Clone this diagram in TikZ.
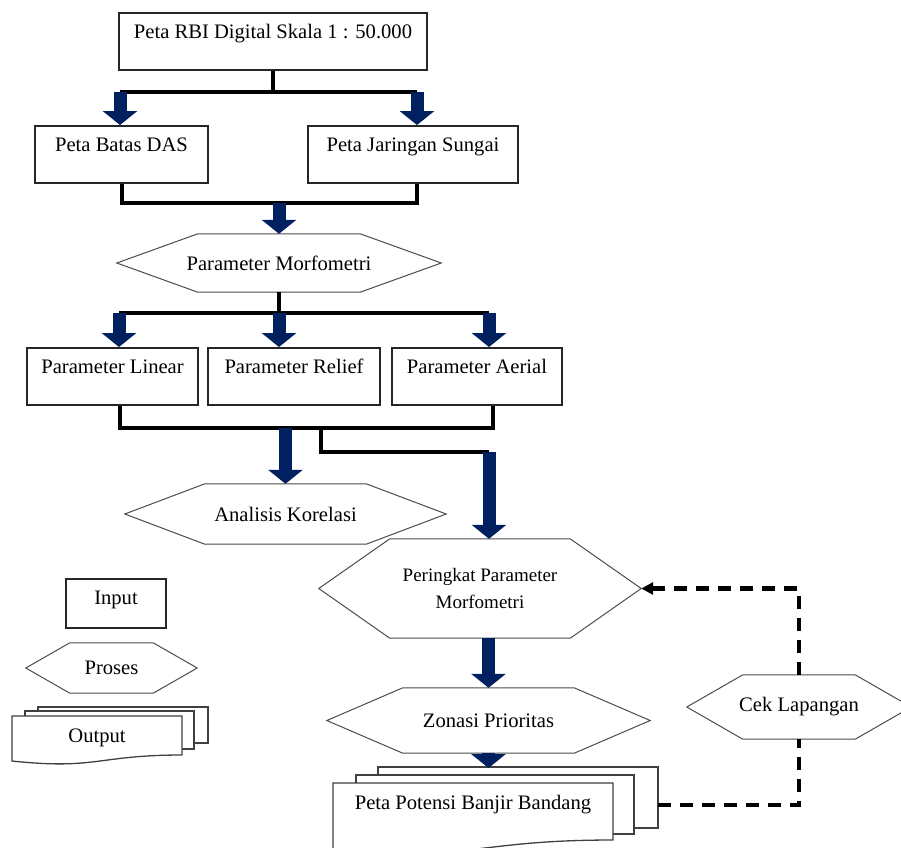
\documentclass[tikz,border=0pt]{standalone}
\usepackage{fontspec}
\setmainfont{Liberation Serif}
\usetikzlibrary{arrows.meta}
\definecolor{arrowblue}{HTML}{002060}
\newcommand\hexoutline[2]{\draw[hexline] (#1.west) -- ([xshift=#2]#1.north west) -- ([xshift=-#2]#1.north east) -- (#1.east) -- ([xshift=-#2]#1.south east) -- ([xshift=#2]#1.south west) -- cycle;}
\begin{document}
\begin{tikzpicture}[x=1pt,y=-1pt,
  txt/.style={font=\fontsize{20.6}{24}\selectfont},
  box/.style={txt, draw=black!85, line width=1.5pt, fill=white, anchor=north, inner xsep=0pt, inner ysep=0pt, text height=26pt},
  hexnode/.style={txt, inner sep=0pt, align=center},
  hexline/.style={draw=black!70, line width=1pt},
  doctext/.style={txt, anchor=north, inner sep=0pt, text height=26pt, text depth=10pt},
  sheet/.style={draw=black!75, line width=1.3pt, fill=white},
  conn/.style={line width=4pt, black},
  bigarrow/.style={line width=13pt, arrowblue, -{Triangle[width=34pt,length=14pt]}},
  dashconn/.style={line width=4.5pt, black, dash pattern=on 13pt off 9pt}
]
\fill[white] (0,0) rectangle (901,847);
\useasboundingbox (0,0) rectangle (901,847);
\clip (0,0) rectangle (901,847);

% ---------- main column boxes ----------
\node[box, minimum width=308pt, text depth=31pt] (top) at (273,12) {Peta RBI Digital Skala 1 : 50.000};
\node[box, minimum width=173pt, text depth=31pt] (batas) at (121.5,125) {Peta Batas DAS};
\node[box, minimum width=210pt, text depth=31pt] (jaring) at (413,125) {Peta Jaringan Sungai};

\node[hexnode, minimum width=324pt, minimum height=58pt] (morf) at (279,263) {Parameter Morfometri};
\hexoutline{morf}{81pt}

\node[box, minimum width=171pt, text depth=31pt] (lin) at (112.5,347) {Parameter Linear};
\node[box, minimum width=172pt, text depth=31pt] (rel) at (294,347) {Parameter Relief};
\node[box, minimum width=170pt, text depth=31pt] (aer) at (477,347) {Parameter Aerial};

\node[hexnode, minimum width=321pt, minimum height=60pt] (anal) at (285.5,514) {Analisis Korelasi};
\hexoutline{anal}{80pt}

\node[hexnode, font=\fontsize{19}{27}\selectfont, minimum width=322pt, minimum height=99pt] (pering) at (480,588.5) {Peringkat Parameter\\Morfometri};
\hexoutline{pering}{71pt}

\node[hexnode, minimum width=323pt, minimum height=65pt] (zon) at (488.5,720.5) {Zonasi Prioritas};
\hexoutline{zon}{76pt}

\node[hexnode, minimum width=224pt, minimum height=64pt] (cek) at (799,707) {Cek Lapangan};
\hexoutline{cek}{56pt}

% output stack (main)
\draw[sheet] (378,767) rectangle (658,828);
\draw[sheet] (356,775) rectangle (634,834);
\draw[sheet] (333,783) -- (613,783) -- (613,840) .. controls (473,840) and (473,862) .. (333,849) -- cycle;
\node[doctext, minimum width=280pt] (outp) at (473,783) {Peta Potensi Banjir Bandang};
\coordinate (outtop) at (488.5,768);
\coordinate (outr) at (658,805);

% ---------- legend ----------
\node[box, minimum width=100pt, text depth=23pt] (inp) at (116,578) {Input};
\node[hexnode, minimum width=171pt, minimum height=50pt] (pros) at (111.5,668) {Proses};
\hexoutline{pros}{44pt}
\draw[sheet] (38,707) rectangle (208,743);
\draw[sheet] (25,711) rectangle (194,749);
\draw[sheet] (12,716) -- (182,716) -- (182,755) .. controls (97,755) and (97,770) .. (12,761) -- cycle;
\node[doctext, minimum width=170pt] (outl) at (97,716) {Output};

% ---------- junction coordinates ----------
\coordinate (j1) at (273,92);
\coordinate (a1) at (120,92);
\coordinate (a2) at (417,92);
\coordinate (bm) at (279,203);
\coordinate (mj) at (279,313);
\coordinate (c1) at (119,313);
\coordinate (c3) at (489,313);
\coordinate (d1) at (120,428);
\coordinate (d2) at (493,428);
\coordinate (d3) at (285.5,428);
\coordinate (e1) at (321,428);
\coordinate (e2) at (489,452);

% ---------- connectors ----------
\draw[conn] (top.south) -- (j1);
\draw[conn] (a1) -- (a2);
\draw[conn] (batas.south) |- (bm) -| (jaring.south -| a2);
\draw[conn] (morf.south) -- (mj);
\draw[conn] (c1) -- (c3);
\draw[conn] (d1 |- lin.south) -- (d1) -- (d2) -- (d2 |- aer.south);
\draw[conn] (e1) |- (e2);

\draw[bigarrow] (a1) -- (a1 |- batas.north);
\draw[bigarrow] (a2) -- (a2 |- jaring.north);
\draw[bigarrow] (bm) -- (morf.north);
\draw[bigarrow] (c1) -- (c1 |- lin.north);
\draw[bigarrow] (mj) -- (mj |- rel.north);
\draw[bigarrow] (c3) -- (c3 |- aer.north);
\draw[bigarrow] (d3) -- (anal.north);
\draw[bigarrow] (e2) -- (e2 |- pering.north);
\draw[bigarrow] (pering.south -| zon.north) -- (zon.north);
\draw[bigarrow] (zon.south) -- (outtop);

\draw[dashconn] (outr) -| (cek.south);
\draw[dashconn, -{Triangle[length=12pt,width=12pt]}] (cek.north) |- (pering.east);
\end{tikzpicture}
\end{document}
